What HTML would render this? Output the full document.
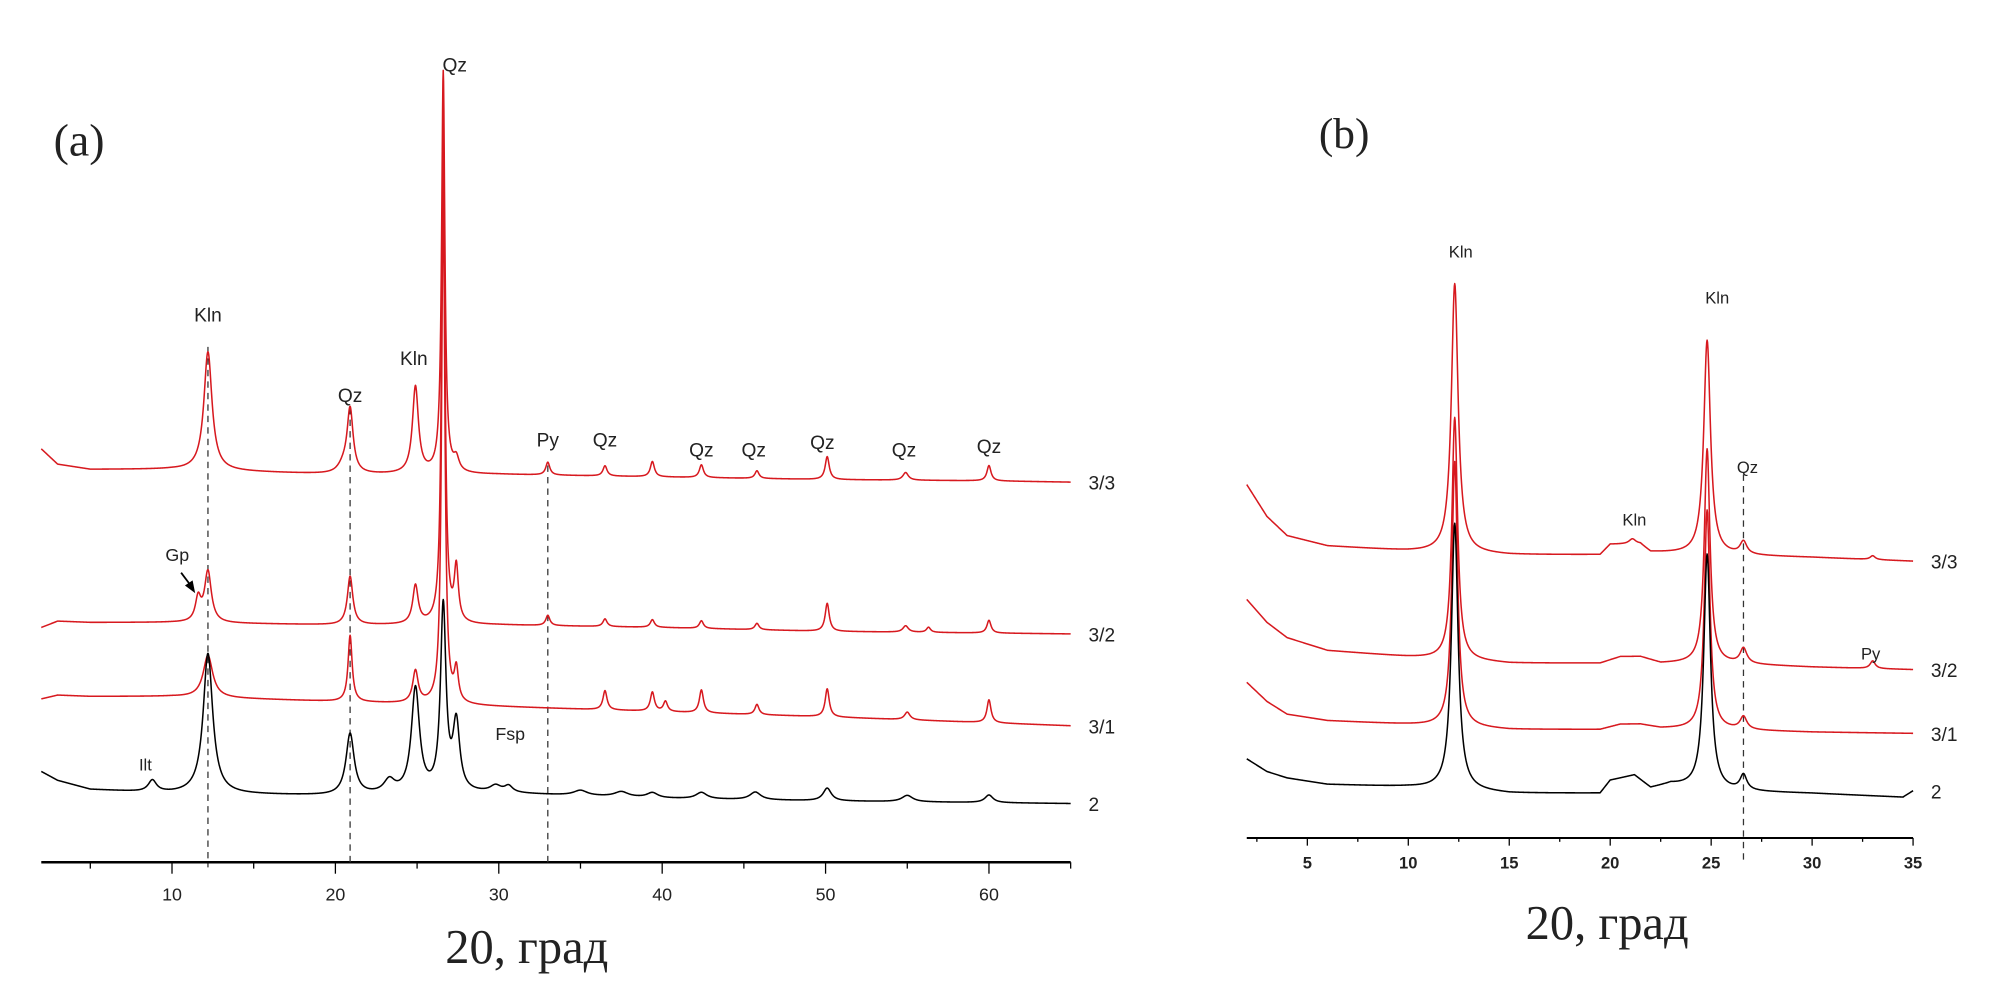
<!DOCTYPE html>
<html><head><meta charset="utf-8"><style>
html,body{margin:0;padding:0;background:#fff;}
svg{display:block;}
text{font-family:"Liberation Sans",sans-serif;}
.serif{font-family:"Liberation Serif",serif;}
</style></head><body>
<svg id="chart" width="2000" height="1007" viewBox="0 0 1568 789.5" preserveAspectRatio="none" xmlns="http://www.w3.org/2000/svg">
<rect width="1568" height="789.5" fill="#fff"/>
<g id="pa"></g>
<g id="pb"></g>
</svg>
<script>
// ---------- Panel (a) data ----------
const aTicksMajor = [10,20,30,40,50,60];
const aTicksMinor = [5,15,25,35,45,55,65];
const aNames = ["3/3","3/2","3/1","2"];
const aColors = ["#d7191f","#d7191f","#d7191f","#000"];
const aOffsets = [380,500,572,632];
const aBaseX = [[2,3,5,10,20,30,40,50,60,65],[2,3,5,10,20,30,40,50,65],[2,3,5,10,20,30,40,50,65],[2,3,5,8,10,20,30,35,40,50,65]];
const aBaseI = [[28,16,12,12,8,8,6,4,3,2],[8,13,12,12,10,10,8,5,3],[24,27,26,26,22,18,14,10,3],[27,20,13,11,10,8,10,8,6,4,2]];
const aPeakPos = [
 [12.2,20.5,20.9,24.9,26.6,27.4,33,36.5,39.4,42.4,45.8,50.1,54.9,60],
 [11.6,12.2,20.9,24.9,26.6,27.4,33,36.5,39.4,42.4,45.8,50.1,54.9,56.3,60],
 [12.2,20.9,24.9,26.6,27.4,36.5,39.4,40.2,42.4,45.8,50.1,55,60],
 [8.8,12.2,20.9,23.3,24.9,26.6,27.4,29.8,30.6,35,37.5,39.4,42.4,45.7,50.1,55,60]];
const aPeakH = [
 [93,6,50,68,315,10,10,8,12,10,6,18,6,12],
 [18,40,38,30,390,42,8,6,6,6,5,22,5,4,10],
 [33,52,25,400,25,15,15,8,18,8,22,6,18],
 [9,110,48,10,82,145,53,5,5,4,4,4,5,6,10,5,6]];
const aPeakW = [
 [0.3,0.4,0.22,0.22,0.12,0.2,0.15,0.15,0.15,0.15,0.15,0.15,0.2,0.15],
 [0.2,0.25,0.2,0.2,0.12,0.15,0.15,0.15,0.15,0.15,0.15,0.15,0.2,0.15,0.15],
 [0.35,0.15,0.2,0.12,0.15,0.15,0.15,0.15,0.15,0.15,0.15,0.2,0.15],
 [0.3,0.35,0.3,0.4,0.3,0.2,0.25,0.4,0.3,0.5,0.5,0.4,0.4,0.4,0.3,0.4,0.3]];
const aLabels = ["Kln","Qz","Kln","Qz","Py","Qz","Qz","Qz","Qz","Qz","Qz"];
const aLabelDeg = [12.2,20.9,24.8,27.3,33,36.5,42.4,45.6,49.8,54.8,60];
const aLabelY = [252,315,286,56,350,350,358,358,352,358,355];
const aDashed = [12.2,20.9,33];

// ---------- Panel (b) data ----------
const bTicksMajor = [5,10,15,20,25,30,35];
const bTicksMinor = [2.5,7.5,12.5,17.5,22.5,27.5,32.5];
const bNames = ["3/3","3/2","3/1","2"];
const bColors = ["#d7191f","#d7191f","#d7191f","#000"];
const bOffsets = [445,530,580,630];
const bBaseX = [[2,3,4,6,10,15,19.5,20,21.5,22,25,30,35],[2,3,4,6,10,15,19.5,20.5,21.5,22.5,25,30,35],[2,3,4,6,10,15,19.5,20.5,21.5,22.5,25,30,35],[2,3,4,6,10,15,19.5,20,21.2,22,23,25,30,34.5,35]];
const bBaseI = [[65,40,25,17,13,10,10,18,18,12,10,8,5],[60,42,30,20,15,10,10,15,15,10,10,7,5],[45,30,20,15,12,8,8,12,12,9,8,6,5],[35,25,20,15,13,8,8,18,22,12,15,10,8,5,10]];
const bPeakPos = [[12.3,21.1,24.8,26.6,33],[12.3,24.8,26.6,33],[12.3,24.8,26.6],[12.3,24.8,26.6]];
const bPeakH = [[211,4,168,10,3],[190,168,12,6],[208,172,10],[209,185,12]];
const bPeakW = [[0.2,0.2,0.2,0.2,0.15],[0.17,0.17,0.2,0.15],[0.17,0.17,0.2],[0.2,0.2,0.2]];
const bLabels = ["Kln","Kln","Kln","Qz","Py"];
const bLabelDeg = [12.6,21.2,25.3,26.8,32.9];
const bLabelY = [202,412,238,371,517];
const bDashed = [26.6];

const NS="http://www.w3.org/2000/svg";
function mk(tag,attrs,parent){const e=document.createElementNS(NS,tag);for(const k in attrs)e.setAttribute(k,attrs[k]);parent.appendChild(e);return e;}
function interp(xs,ys,x){if(x<=xs[0])return ys[0];for(let i=1;i<xs.length;i++){if(x<=xs[i]){const t=(x-xs[i-1])/(xs[i]-xs[i-1]);return ys[i-1]+t*(ys[i]-ys[i-1]);}}return ys[ys.length-1];}
function intensity(bx,bi,pp,ph,pw,d){let v=interp(bx,bi,d);for(let k=0;k<pp.length;k++){const u=(d-pp[k])/pw[k];v+=ph[k]/(1+u*u);}return v;}

function panel(g,cfg){
  const X=cfg.x;
  // axis
  const ax=mk('line',{x1:X(cfg.min),x2:X(cfg.max),y1:cfg.axisY,y2:cfg.axisY,stroke:'#000','stroke-width':cfg.axW},g);
  
  cfg.major.forEach(t=>{
    const l=mk('line',{x1:X(t),x2:X(t),y1:cfg.axisY,y2:cfg.axisY+cfg.tMaj,stroke:'#000','stroke-width':1},g);
    
    const tx=mk('text',{x:X(t),y:cfg.axisY+cfg.lblDy,'text-anchor':'middle','font-size':cfg.tickFs,'font-weight':cfg.tickW,fill:'#222'},g);
    tx.textContent=t;
    
  });
  cfg.minor.forEach(t=>{
    const l=mk('line',{x1:X(t),x2:X(t),y1:cfg.axisY,y2:cfg.axisY+cfg.tMin,stroke:'#000','stroke-width':1},g);
    
  });
  // dashed
  cfg.dashed.forEach((d,i)=>{
    const l=mk('line',{x1:X(d),x2:X(d),y1:cfg.dashTop[i],y2:cfg.dashBot,stroke:'#333','stroke-width':1,'stroke-dasharray':'5,4'},g);
    
  });
  // traces
  for(let s=0;s<cfg.names.length;s++){
    let pts=[];
    for(let d=cfg.min;d<=cfg.max+1e-9;d+=cfg.step){
      const v=intensity(cfg.bx[s],cfg.bi[s],cfg.pp[s],cfg.ph[s],cfg.pw[s],d);
      pts.push(X(d).toFixed(2)+','+(cfg.off[s]-v).toFixed(2));
    }
    const p=mk('polyline',{points:pts.join(' '),fill:'none',stroke:cfg.colors[s],'stroke-width':1.2,'stroke-linejoin':'round'},g);
    
    
    const endV=intensity(cfg.bx[s],cfg.bi[s],cfg.pp[s],cfg.ph[s],cfg.pw[s],cfg.max);
    const t=mk('text',{x:X(cfg.max)+cfg.nameDx,y:cfg.off[s]-endV+6,'font-size':15,fill:'#222'},g);
    t.textContent=cfg.names[s];
    
  }
  cfg.labels.forEach((lb,i)=>{
    const t=mk('text',{x:X(cfg.labelDeg[i]),y:cfg.labelY[i],'text-anchor':'middle','font-size':cfg.pkFs,fill:'#222'},g);
    t.textContent=lb;
    
  });
}

const pa=document.getElementById('pa'), pb=document.getElementById('pb');
panel(pa,{x:d=>6.75+12.81*d,min:2,max:65,axisY:676,axW:2,major:aTicksMajor,minor:aTicksMinor,tMaj:9,tMin:5,lblDy:30,tickFs:14,tickW:'normal',
  dashed:aDashed,dashTop:[272,320,365],dashBot:680,names:aNames,colors:aColors,off:aOffsets,bx:aBaseX,bi:aBaseI,pp:aPeakPos,ph:aPeakH,pw:aPeakW,step:0.02,
  nameDx:14,labels:aLabels,labelDeg:aLabelDeg,labelY:aLabelY,pkFs:15});
panel(pb,{x:d=>945.8+15.83*d,min:2,max:35,axisY:657,axW:1.6,major:bTicksMajor,minor:bTicksMinor,tMaj:6,tMin:3,lblDy:24,tickFs:13,tickW:'bold',
  dashed:bDashed,dashTop:[372],dashBot:675,names:bNames,colors:bColors,off:bOffsets,bx:bBaseX,bi:bBaseI,pp:bPeakPos,ph:bPeakH,pw:bPeakW,step:0.02,
  nameDx:14,labels:bLabels,labelDeg:bLabelDeg,labelY:bLabelY,pkFs:13});

// extra annotations
function txt(g,x,y,s,fs,cls,name,anchor){const t=mk('text',{x:x,y:y,'font-size':fs,fill:'#222','text-anchor':anchor||'start'},g);if(cls)t.setAttribute('class',cls);t.textContent=s;

return t;}
txt(pa,42,122,'(a)',36,'serif','panel-a-label');
txt(pb,1034,116,'(b)',34,'serif','panel-b-label');
txt(pa,413,755,'20, град',38,'serif','x-axis-title-a','middle');
txt(pb,1260,736,'20, град',38,'serif','x-axis-title-b','middle');
txt(pa,139,440,'Gp',14,null,'peak-label-gp','middle');
txt(pa,114,604,'Ilt',13,null,'peak-label-ilt','middle');
txt(pa,400,580,'Fsp',14,null,'peak-label-fsp','middle');
const ar=mk('line',{x1:142,y1:449,x2:151,y2:461,stroke:'#000','stroke-width':1.4},pa);

const ah=mk('polygon',{points:'153,465 145,459 151,455',fill:'#000'},pa);

</script>
</body></html>
